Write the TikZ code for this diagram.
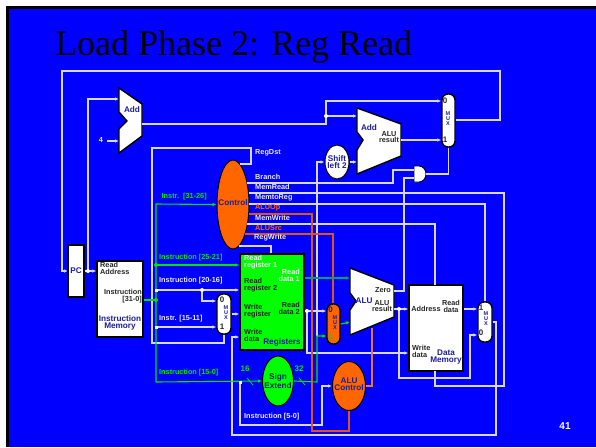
\documentclass[tikz,border=0pt]{standalone}
\usepackage{fontspec}
\setmainfont{Liberation Sans}
\newfontfamily\titlefont{Liberation Serif}
\usepackage{tikz}
\usetikzlibrary{arrows.meta,shapes.geometric,calc}

\definecolor{slideblue}{RGB}{0,0,255}
\definecolor{wirewhite}{RGB}{215,215,255}
\definecolor{ctrlorange}{RGB}{255,102,0}
\definecolor{wireorange}{RGB}{225,85,20}
\definecolor{wireteal}{RGB}{0,160,110}
\definecolor{labelblue}{RGB}{30,30,150}
\definecolor{labelgrey}{RGB}{235,235,235}

\tikzset{
    wire/.style={wirewhite, line width=1.1pt},
    wiregreen/.style={green!90!black, line width=1.1pt},
    wireorg/.style={wireorange, line width=1.1pt},
    tip/.style={-{Latex[length=4pt,width=3.5pt]}},
    dotw/.style={circle, fill=white, inner sep=0pt, minimum size=4pt},
    dotg/.style={circle, fill=green!90!black, inner sep=0pt, minimum size=4pt},
    block/.style={draw=black, line width=1.4pt, fill=white, inner sep=0pt},
    muxbox/.style={block, rounded corners=6pt},
    oval/.style={ellipse, draw=black, line width=1pt, inner sep=0pt},
    lbl/.style={font=\fontsize{7.3}{6.8}\selectfont\bfseries, inner sep=0pt, align=center},
    lblk/.style={lbl, text=black!85},
    lblb/.style={lbl, text=labelblue, font=\fontsize{8.2}{7}\selectfont\bfseries},
    lblw/.style={lbl, text=labelgrey},
    lblg/.style={lbl, text=green!90!black},
    lblo/.style={lbl, text=ctrlorange},
    muxdigit/.style={lblk, font=\fontsize{8}{8}\selectfont\bfseries},
    muxtxt/.style={lbl, text=labelblue, font=\fontsize{5.5}{5}\selectfont\bfseries},
    slash/.style={green!90!black, line width=0.8pt}
}

\begin{document}
\begin{tikzpicture}[x=1pt,y=-1pt]
    \useasboundingbox (0,0) rectangle (596,447);
    \fill[white] (0,0) rectangle (596,447);
    \fill[black] (6,6) rectangle (596,447);
    \fill[slideblue] (8.5,9) rectangle (596,447);
    \node[font=\titlefont\fontsize{36}{36}\selectfont, anchor=base west, inner sep=0pt] (title) at (55,55) {Load Phase 2: Reg Read};

    % blocks
    \node[block, minimum width=16pt, minimum height=52pt] (pc) at (76,271) {};
    \node[block, minimum width=46pt, minimum height=76pt] (imem) at (120,299) {};
    \node[block, fill=green, minimum width=64pt, minimum height=96pt] (regs) at (272,302) {};
    \node[block, minimum width=54pt, minimum height=86pt] (dmem) at (436,328) {};
    \node[muxbox, minimum width=13pt, minimum height=53pt] (pcmux) at (448.5,120.5) {};
    \node[muxbox, minimum width=14pt, minimum height=40pt] (regmux) at (224,314) {};
    \node[muxbox, fill=ctrlorange, minimum width=13pt, minimum height=40pt] (alumux) at (333.5,324) {};
    \node[muxbox, minimum width=14pt, minimum height=40pt] (wbmux) at (485,322) {};
    \node[oval, fill=ctrlorange, minimum width=32pt, minimum height=89pt] (control) at (233,204.5) {};
    \node[oval, fill=green, minimum width=31pt, minimum height=50pt] (signext) at (278,381) {};
    \node[oval, fill=ctrlorange, minimum width=33pt, minimum height=49pt] (aluctl) at (349,386) {};
    \node[oval, fill=white, minimum width=24pt, minimum height=34pt] (shift) at (337,162) {};

    % adders and alu
    \filldraw[block] (119,88) -- (142,104) -- (142,136) -- (119,153) -- (119,129) -- (127,121) -- (119,112) -- cycle;
    \filldraw[block] (357,108) -- (401,124) -- (401,156) -- (357,174) -- (357,150) -- (363,140) -- (357,132) -- cycle;
    \filldraw[block] (350,268) -- (394,285) -- (394,317) -- (350,335) -- (350,310) -- (356,301) -- (350,293) -- cycle;
    \filldraw[block, line width=0.9pt] (414,166) -- (419,166) arc[start angle=90, end angle=-90, x radius=7pt, y radius=8pt] -- (414,182) -- cycle;

    % ports
    \coordinate (pcin) at (68,271);
    \coordinate (pcout) at (88,271);
    \coordinate (addone) at (119,99);
    \coordinate (addfour) at (119,141);
    \coordinate (addout) at (142,124);
    \coordinate (addtop) at (326,116);
    \coordinate (andout) at (426,174);
    \coordinate (branchin) at (414,170);
    \coordinate (zeroin) at (414,178);
    \coordinate (aluresult) at (399,309);
    \coordinate (readtwo) at (307,311);
    \coordinate (offset) at (317,336);
    \coordinate (instrbus) at (156,300);
    \coordinate (rttap) at (202,290);
    \coordinate (extin) at (240,382);

    % wires
    \draw[wire, tip] (pcmux.east |- 0,120) -- (500,120) -- (500,71) -- (62,71) -- (62,271) -- (pcin);
    \draw[wire, tip] (pc.east |- pcout) -- (imem.west |- pcout);
    \draw[wire, tip] (pcout) -- (88,99) -- (addone);
    \node[lblw] (four) at (101,140) {4};
    \draw[wire, tip] (107,141) -- (addfour);
    \draw[wire] (addout) -- (326,124) -- (addtop);
    \draw[wire, tip] (addtop) -- (357,116);
    \draw[wire, tip] (addtop) -- (326,101) -- (pcmux.west |- 0,101);
    \draw[wire, tip] (401,140) -- (pcmux.west |- 0,140);
    \draw[wire] (pcmux.south) -- (448.5,174) -- (andout);
    \draw[wire] (247,183) -- (393,183) -- (393,170) -- (branchin);
    \draw[wire] (248.5,193) -- (504,193) -- (504,386) -- (435,386) -- (435,371);
    \draw[wire] (249,204) -- (485,204) -- (wbmux.north);
    \draw[wire] (247.4,224) -- (435,224) -- (435,285);
    \draw[wire] (239.6,164) -- (251,164) -- (251,148) -- (152,148) -- (152,343) -- (224,343) -- (regmux.south);
    \draw[wire] (239,246) -- (271,246) -- (regs.north -| 271,0);
    \draw[wire] (394,291) -- (404,291) -- (404,178) -- (zeroin);
    \draw[wire, tip] (offset) -- (317,162) -- (shift.west);
    \draw[wire, tip] (shift.east) -- (357,162);
    \draw[wire, tip] (instrbus |- rttap) -- (regs.west |- rttap);
    \draw[wire, tip] (rttap) -- (202,301) -- (regmux.west |- 0,301);
    \draw[wire, tip] (156,327) -- (regmux.west |- 0,327);
    \draw[wire, tip] (regmux.east) -- (regs.west |- regmux.east);
    \draw[wire, tip] (regs.east |- readtwo) -- (alumux.west |- readtwo);
    \draw[wire, tip] (readtwo) -- (307,353) -- (dmem.west |- 0,353);
    \draw[wire, tip] (394,309) -- (dmem.west |- aluresult);
    \draw[wire, tip] (aluresult) -- (399,378) -- (470,378) -- (470,335) -- (wbmux.west |- 0,335);
    \draw[wire, tip] (dmem.east |- aluresult) -- (wbmux.west |- aluresult);
    \draw[wire, tip] (wbmux.east) -- (496,322) -- (496,435) -- (232,435) -- (232,337) -- (regs.west |- 0,337);
    \draw[wire, tip] (extin) -- (240,425) -- (322,425) -- (322,386) -- (aluctl.west);

    \draw[wireorg] (248.6,214) -- (312,214) -- (312,431) -- (349,431) -- (aluctl.south);
    \draw[wireorg] (245,234) -- (333,234) -- (alumux.north -| 333,0);
    \draw[wireorange!80!white, line width=1.1pt] (372,328) -- (372,386) -- (aluctl.east);

    \draw[wiregreen, tip] (156,382) -- (156,204) -- (control.west);
    \draw[wiregreen] (imem.east |- instrbus) -- (instrbus);
    \draw[wiregreen, tip] (156,382) -- (signext.west);
    \draw[wiregreen, tip] (156,265) -- (regs.west |- 0,265);
    \draw[wiregreen, tip] (signext.east) -- (317,382) -- (offset) -- (alumux.west |- offset);
    \draw[wireteal, line width=1.1pt, tip] (regs.east |- 0,278) -- (350,278);
    \draw[wiregreen, tip] (alumux.east) -- (350,322);
    \draw[slash] (247,378) -- (253,385);
    \draw[slash] (299,378) -- (305,385);

    % dots
    \node[dotw] (dotpc) at (pcout) {};
    \node[dotw] (dotadd) at (addtop) {};
    \node[dotw] (dotrt) at (rttap) {};
    \node[dotw] (dotrd) at (readtwo) {};
    \node[dotw] (dotalu) at (aluresult) {};
    \node[dotw, minimum size=3pt, rectangle] (dotrs) at (156,290) {};
    \node[dotw, minimum size=3pt, rectangle] (dotrd2) at (156,327) {};
    \node[dotw, minimum size=3pt, rectangle] (dotext) at (extin) {};
    \node[dotg] (dotins) at (instrbus) {};
    \node[dotg] (dotir) at (156,265) {};

    % labels
    \node[lblb] (pclbl) at (76,271) {PC};
    \node[lblb] (addlbl) at (132,110) {Add};
    \node[lblb] (addtwolbl) at (369,128) {Add};
    \node[lblk] (addres) at (389,137) {ALU\\result};
    \node[lblb] (shiftlbl) at (337,162) {Shift\\left 2};
    \node[lblb] (ctrllbl) at (233,203) {Control};
    \node[lblb, text=green!25!blue!55!black] (signlbl) at (278,381) {Sign\\Extend};
    \node[lblb] (aluctllbl) at (349,384.5) {ALU\\Control};
    \node[lblb] (alulbl) at (364,301) {ALU};
    \node[lblk] (zerolbl) at (383,290) {Zero};
    \node[lblk] (alures) at (382,306) {ALU\\result};
    \node[lblk, align=left, anchor=west] (rdaddr) at (100,268.5) {Read\\Address};
    \node[lblk, align=right, anchor=east] (instrlbl) at (142,296.5) {Instruction\\{}[31-0]};
    \node[lblb] (imemlbl) at (120,322.5) {Instruction\\Memory};
    \node[lblg, anchor=west] (ir1) at (159,258) {Instruction [25-21]};
    \node[lblw, anchor=west] (ir2) at (159,281) {Instruction [20-16]};
    \node[lblw, anchor=west] (ir3) at (159,319) {Instr. [15-11]};
    \node[lblg, anchor=west] (ir4) at (159,373) {Instruction [15-0]};
    \node[lblg, anchor=west] (ir5) at (161.5,197) {Instr.\ \ [31-26]};
    \node[lblw, anchor=west] (ir6) at (244,417) {Instruction [5-0]};
    \node[lblg, font=\fontsize{8}{8}\selectfont\bfseries] (bits16) at (245,369) {16};
    \node[lblg, font=\fontsize{8}{8}\selectfont\bfseries] (bits32) at (299,369) {32};
    \node[lblw, anchor=west] (sregdst) at (255,153) {RegDst};
    \node[lblw, anchor=west] (sbranch) at (255,177) {Branch};
    \node[lblw, anchor=west] (smemrd) at (255,187) {MemRead};
    \node[lblw, anchor=west] (smemreg) at (255,198) {MemtoReg};
    \node[lblo, anchor=west] (saluop) at (255,208) {ALUOp};
    \node[lblw, anchor=west] (smemwr) at (255,218) {MemWrite};
    \node[lblo, anchor=west] (salusrc) at (255,228) {ALUSrc};
    \node[lblw, anchor=west] (sregwr) at (254,238) {RegWrite};
    \node[lblw, align=left, anchor=west] (rr1) at (244,262) {Read\\register 1};
    \node[lblk, align=left, anchor=west] (rr2) at (244,285) {Read\\register 2};
    \node[lblk, align=left, anchor=west] (wr) at (244,311) {Write\\register};
    \node[lblk, align=left, anchor=west] (wd) at (244,335) {Write\\data};
    \node[lblw, align=right, anchor=east] (rd1) at (300,275) {Read\\data 1};
    \node[lblk, align=right, anchor=east] (rd2) at (300,308.5) {Read\\data 2};
    \node[lblb] (reglbl) at (282,342) {Registers};
    \node[lblk] (addrlbl) at (426,309) {Address};
    \node[lblk] (rdlbl) at (451,306) {Read\\data};
    \node[lblk, align=left, anchor=west] (wdlbl) at (412,351) {Write\\data};
    \node[lblb] (dmemlbl) at (446,357.5) {Data\\Memory};
    \node[muxdigit] (m00) at (445,101) {0};
    \node[muxdigit] (m01) at (445,140) {1};
    \node[muxtxt] (m0) at (448,119) {M\\U\\X};
    \node[muxdigit] (m10) at (222,300) {0};
    \node[muxdigit] (m11) at (222,327) {1};
    \node[muxtxt] (m1) at (226,313) {M\\U\\X};
    \node[muxdigit] (m20) at (330.5,310) {0};
    \node[muxdigit, text=green!90!black] (m21) at (331,337) {1};
    \node[muxtxt] (m2) at (335,323) {M\\U\\X};
    \node[muxdigit] (m30) at (481,308) {1};
    \node[muxdigit] (m31) at (481,333) {0};
    \node[muxtxt] (m3) at (486,319) {M\\U\\X};
    \node[lblw, text=white, font=\fontsize{10}{10}\selectfont\bfseries] (pagenum) at (565,426) {41};
\end{tikzpicture}
\end{document}
